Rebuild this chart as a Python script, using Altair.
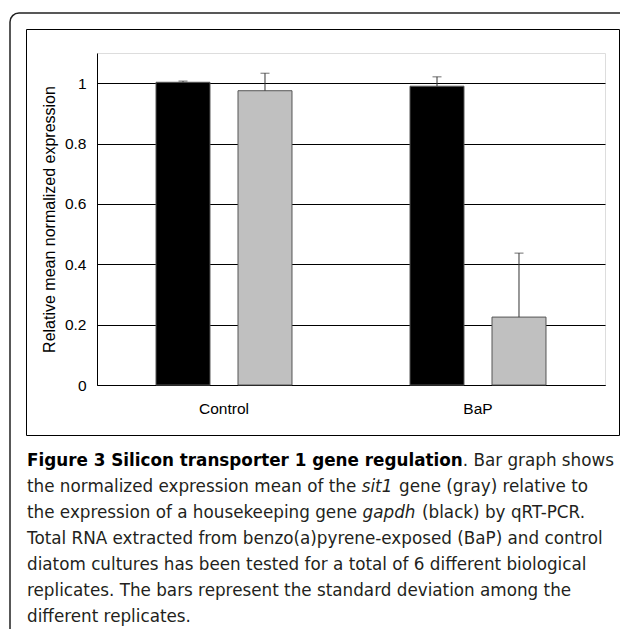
import altair as alt
import pandas as pd

# ---- data ----
conditions = ["Control", "Control", "BaP", "BaP"]
genes = ["gapdh", "sit1", "gapdh", "sit1"]
means = [1.003, 0.975, 0.99, 0.225]
sds = [0.004, 0.058, 0.031, 0.212]
cond_order = ["Control", "BaP"]
gene_order = ["gapdh", "sit1"]
y_ticks = [0, 0.2, 0.4, 0.6, 0.8, 1]

df = pd.DataFrame({"condition": conditions, "gene": genes, "mean": means, "sd": sds})
df["upper"] = df["mean"] + df["sd"]

W, H = 508, 332
OX, OY = 97, 53  # page position of plot area origin (page margin 8 included)
CANVAS_W, CANVAS_H = 612, 621


def px(x):
    return x - OX


def py(y):
    return y - OY


x_enc = alt.X("condition:N", sort=cond_order,
              scale=alt.Scale(paddingInner=0.4646, paddingOuter=0.2323),
              axis=alt.Axis(title=None, labelAngle=0, ticks=False, labelPadding=16,
                            domainColor="#000", labelFont="Liberation Sans",
                            labelFontSize=15.5, labelColor="#000"))
xo_enc = alt.XOffset("gene:N", sort=gene_order,
                     scale=alt.Scale(paddingInner=0.3415, paddingOuter=0))
y_scale = alt.Scale(domain=[0, 1.1], nice=False)

bars = alt.Chart(df).mark_bar(stroke="#555", strokeWidth=1).encode(
    x=x_enc,
    xOffset=xo_enc,
    y=alt.Y("mean:Q", scale=y_scale,
            axis=alt.Axis(values=y_ticks, format="~g", title="Relative mean normalized expression",
                          ticks=False, labelPadding=11, titlePadding=7,
                          labelFont="Liberation Sans", labelFontSize=15.5, labelColor="#000",
                          titleFont="Liberation Sans", titleFontSize=16, titleFontWeight="normal",
                          titleColor="#000", domainColor="#000",
                          grid=True, gridColor="#000", gridWidth=1)),
    color=alt.Color("gene:N", sort=gene_order,
                    scale=alt.Scale(domain=gene_order, range=["#000000", "#c0c0c0"]),
                    legend=None),
)

err = alt.Chart(df).mark_rule(color="#333", strokeWidth=1).encode(
    x=alt.X("condition:N", sort=cond_order),
    xOffset=alt.XOffset("gene:N", sort=gene_order),
    y=alt.Y("mean:Q", scale=y_scale),
    y2="upper:Q",
)

caps = alt.Chart(df).mark_tick(color="#333", size=9, thickness=1).encode(
    x=alt.X("condition:N", sort=cond_order),
    xOffset=alt.XOffset("gene:N", sort=gene_order),
    y=alt.Y("upper:Q", scale=y_scale),
)

one = pd.DataFrame({"k": [0]})

outer = alt.Chart(one).mark_rect(fill="transparent", stroke="#222", strokeWidth=1.5,
                                 cornerRadius=9).encode(
    x=alt.value(px(10)), x2=alt.value(px(640)), y=alt.value(py(13)), y2=alt.value(py(700)))
inner = alt.Chart(one).mark_rect(fill="transparent", stroke="#000", strokeWidth=1).encode(
    x=alt.value(px(26.5)), x2=alt.value(px(619.5)), y=alt.value(py(29.5)), y2=alt.value(py(435.5)))

CAP_FONT = "DejaVu Sans"
CAP_SIZE = 16.8
BOLD_SIZE = 16.8
CAP_COLOR = "#231f20"
LEFT = 27
RIGHT = 614

# caption segments: (text, page x, page baseline y, align, weight, style)
segments = [
    ("Figure 3 Silicon transporter 1 gene regulation", LEFT, 466, "left", "bold", "normal"),
    (". Bar graph shows", RIGHT, 466, "right", "normal", "normal"),
    ("the normalized expression mean of the", LEFT, 492, "left", "normal", "normal"),
    ("sit1", 377, 492, "center", "normal", "italic"),
    ("gene (gray) relative to", 588, 492, "right", "normal", "normal"),
    ("the expression of a housekeeping gene", LEFT, 518, "left", "normal", "normal"),
    ("gapdh", 389, 518, "center", "normal", "italic"),
    ("(black) by qRT-PCR.", 422, 518, "left", "normal", "normal"),
    ("Total RNA extracted from benzo(a)pyrene-exposed (BaP) and control", LEFT, 544, "left", "normal", "normal"),
    ("diatom cultures has been tested for a total of 6 different biological", LEFT, 570, "left", "normal", "normal"),
    ("replicates. The bars represent the standard deviation among the", LEFT, 596, "left", "normal", "normal"),
    ("different replicates.", LEFT, 622, "left", "normal", "normal"),
]

texts = []
for t, x, y, al, wt, st in segments:
    texts.append(
        alt.Chart(pd.DataFrame({"t": [t]})).mark_text(
            align=al, baseline="alphabetic", font=CAP_FONT,
            fontSize=BOLD_SIZE if wt == "bold" else CAP_SIZE,
            fontWeight=wt, fontStyle=st, color="#000" if wt == "bold" else CAP_COLOR,
        ).encode(x=alt.value(px(x)), y=alt.value(py(y)), text="t:N")
    )

chart = alt.layer(outer, inner, bars, err, caps, *texts).properties(
    width=W, height=H,
    autosize=alt.AutoSizeParams(type="none"),
    padding={"left": OX - 8, "top": OY - 8, "right": CANVAS_W - (OX - 8) - W,
             "bottom": CANVAS_H - (OY - 8) - H},
).configure_view(stroke="#888", strokeWidth=1).configure(background="white")

chart.save("out.html", embed_options={"renderer": "svg", "actions": False})
